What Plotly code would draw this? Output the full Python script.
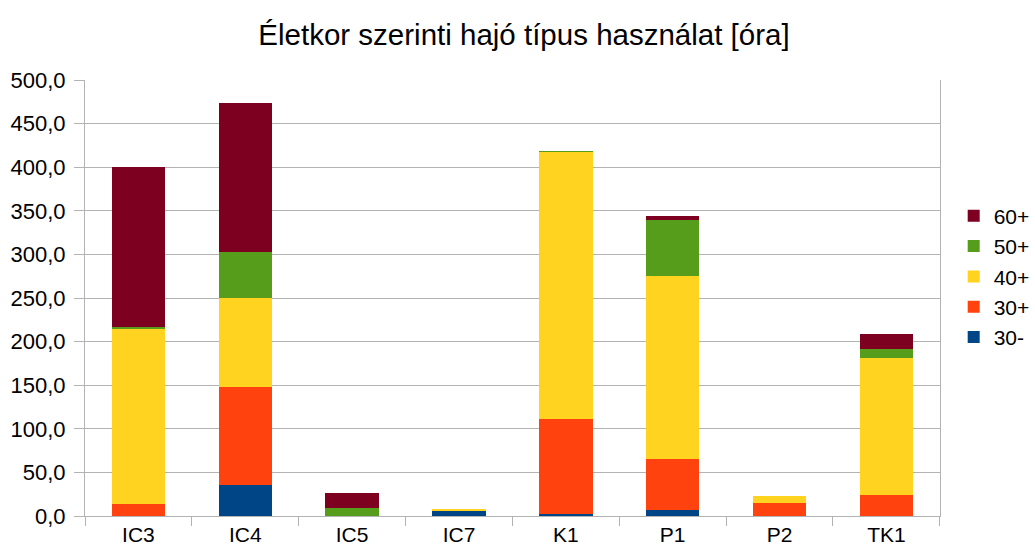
import plotly.graph_objects as go

categories = ["IC3", "IC4", "IC5", "IC7", "K1", "P1", "P2", "TK1"]
series_names = ["30-", "30+", "40+", "50+", "60+"]
v_30minus = [0, 36, 0, 6.5, 2.5, 7, 0, 0]
v_30plus = [13.5, 112, 0, 0, 108.5, 58, 15, 24]
v_40plus = [201.5, 101.5, 0, 1.2, 306.5, 210, 7.5, 157]
v_50plus = [2, 53, 9.5, 0, 1, 65, 0, 11]
v_60plus = [183, 171, 17, 0, 0, 4, 0, 17]
colors = ["#004586", "#ff420e", "#ffd320", "#579d1c", "#7e0021"]

values = [v_30minus, v_30plus, v_40plus, v_50plus, v_60plus]

fig = go.Figure()
for name, vals, col in zip(series_names, values, colors):
    fig.add_trace(go.Bar(x=categories, y=vals, name=name, marker=dict(color=col, line=dict(width=0))))

W, H = 1035, 556
L, R, T, B = 85, 0, 80, 40
plot_right = 948
fig.update_layout(
    barmode="stack",
    bargap=0.5,
    width=W, height=H,
    margin=dict(l=L, r=R, t=T, b=B, pad=0),
    paper_bgcolor="white", plot_bgcolor="white",
    font=dict(family="Liberation Sans, Arial, sans-serif", size=21, color="#000000"),
    separators=", ",
    title=dict(text="Életkor szerinti hajó típus használat [óra]", x=524 / W, xanchor="center",
               xref="container", y=1 - 35 / H, yref="container", yanchor="middle",
               font=dict(size=29.5)),
    legend=dict(x=(962 - L) / (W - L - R), xanchor="left", y=0.549, yanchor="middle",
                traceorder="reversed", font=dict(size=21), itemwidth=30, tracegroupgap=0),
    showlegend=True,
)
fig.update_yaxes(range=[0, 500], dtick=50, tickformat=".1f", showgrid=True, gridcolor="#b3b3b3",
                 gridwidth=1, showline=True, linecolor="#b3b3b3", mirror=True, ticks="outside",
                 ticklen=10, tickcolor="#b3b3b3", zeroline=False, tickfont=dict(size=22),
                 ticklabelstandoff=4, automargin=False)
fig.update_xaxes(domain=[0, (plot_right - L) / (W - L - R)], showline=True, linecolor="#b3b3b3",
                 ticks="outside", tickson="boundaries", ticklen=9, tickcolor="#b3b3b3",
                 tickfont=dict(size=21), automargin=False)

fig.write_html("out.html", config={"displayModeBar": False},
               post_script="document.body.style.margin='0';document.body.style.overflow='hidden';")
